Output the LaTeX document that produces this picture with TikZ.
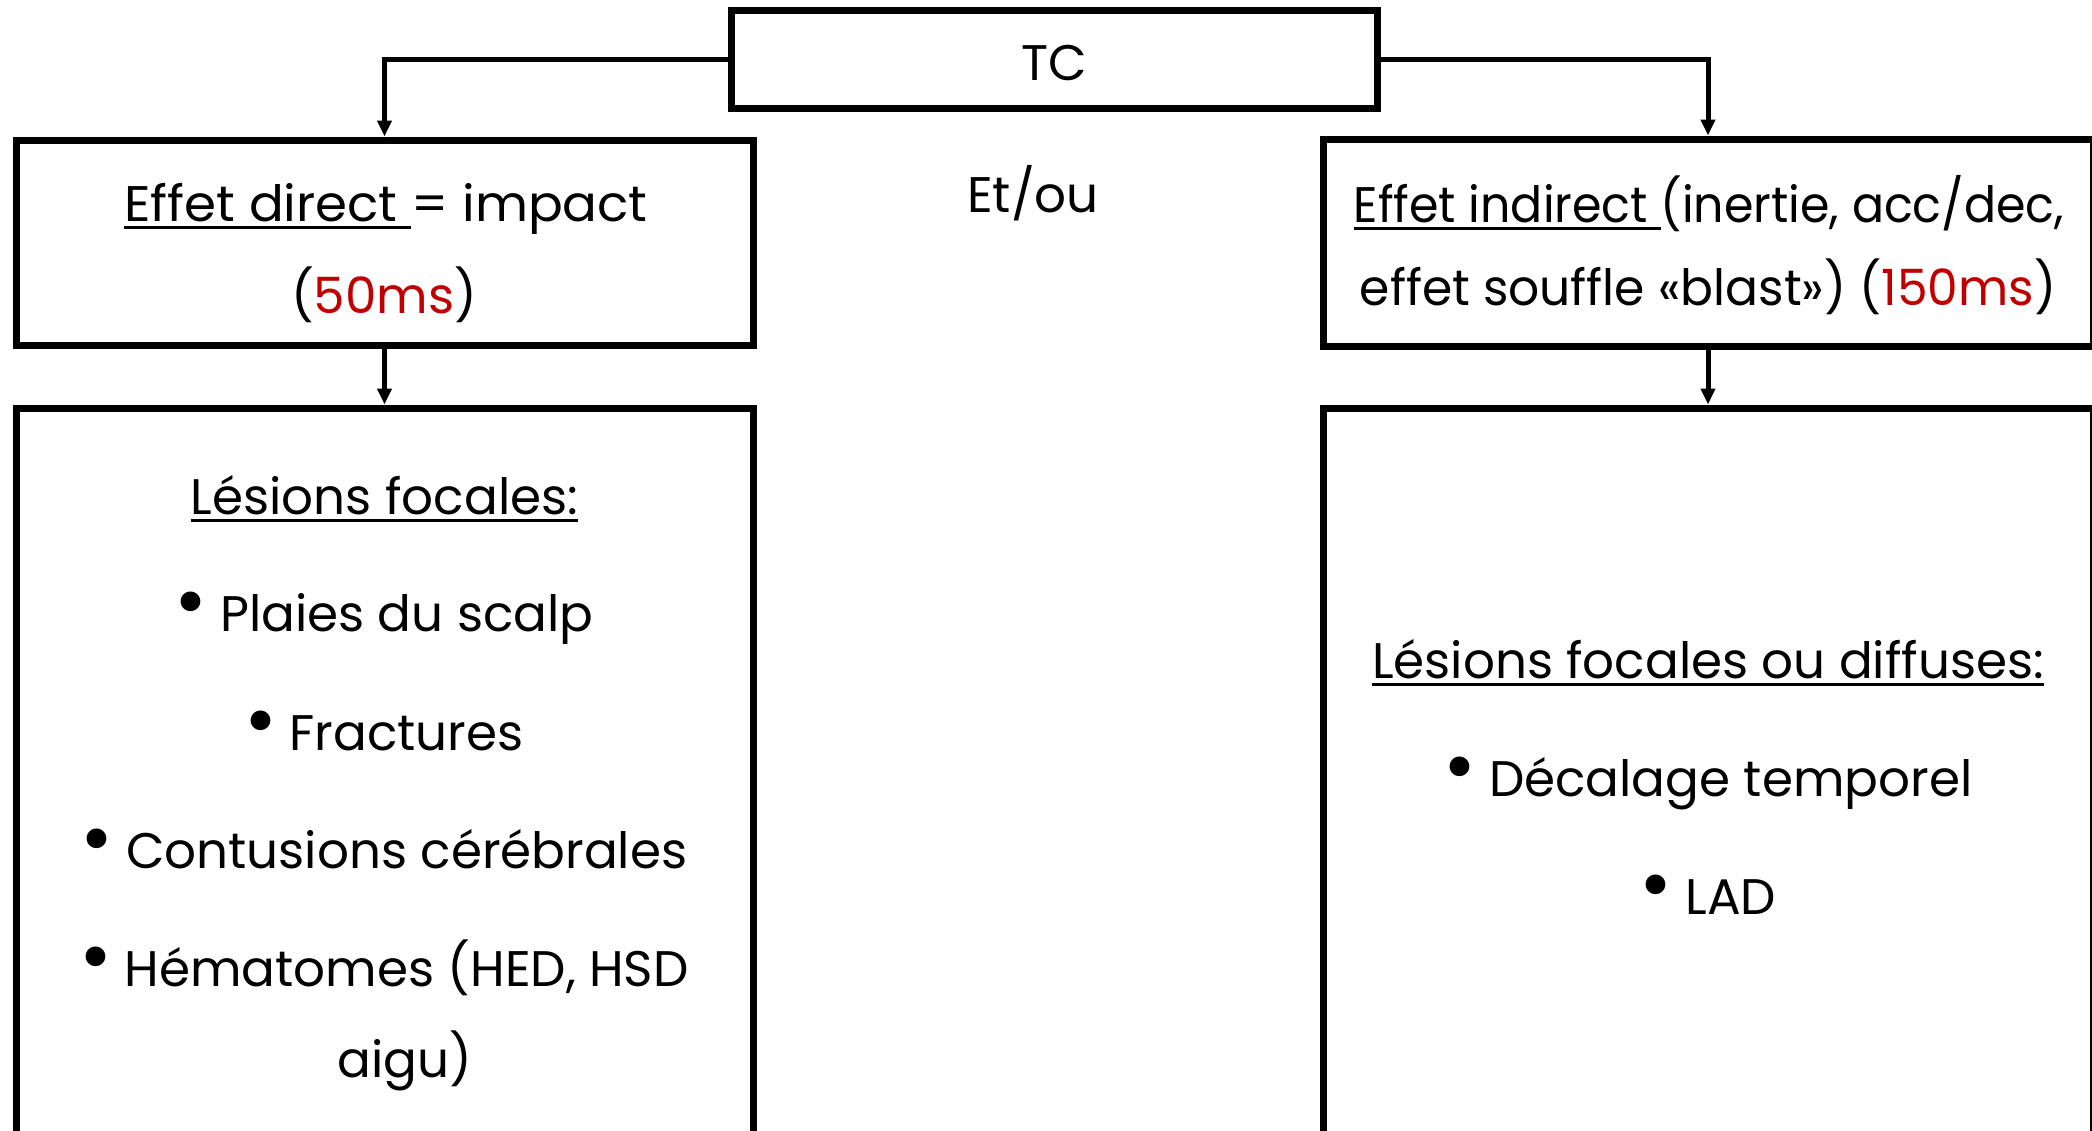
\documentclass[tikz,border=0pt]{standalone}
\usepackage{fontspec}
\setmainfont{Poppins}
\usetikzlibrary{arrows.meta}
\definecolor{redms}{RGB}{192,0,0}
\newcommand\ulx[1]{\setbox0\hbox{#1}\rlap{\rule[-3.75pt]{\wd0}{1.5pt}}\box0}
\newcommand\bul{\raisebox{1.5pt}{\fontsize{40}{40}\selectfont\textbullet}\hspace{0.25em}}
\begin{document}
\begin{tikzpicture}[x=0.5pt,y=-0.5pt,
  box/.style={draw=black,line width=3.5pt,rectangle,inner sep=0pt},
  conn/.style={line width=2.5pt,-{Triangle[length=8pt,width=7pt]}},
  txt/.style={anchor=base,inner sep=0pt,font=\fontsize{25}{30}\selectfont}]
\useasboundingbox (0,0) rectangle (2092,1130);
\fill[white] (0,0) rectangle (2092,1130);
% boxes
\node[box,minimum width=323pt,minimum height=49pt] (tc) at (1054,59) {};
\node[box,minimum width=368.5pt,minimum height=102.5pt] (ed) at (384.5,242.5) {};
\node[box,minimum width=385pt,minimum height=103.5pt] (ei) at (1708,242.5) {};
\node[box,minimum width=368.5pt,minimum height=446pt] (lf) at (384.5,854) {};
\node[box,minimum width=385pt,minimum height=446pt] (rf) at (1708,854) {};
% connectors
\draw[conn] (tc.west) -| (ed.north);
\draw[conn] (tc.east) -| (ei.north);
\draw[conn] (ed.south) -- (lf.north);
\draw[conn] (ei.south) -- (rf.north);
% texts
\node[txt] (ttc) at (1054,80) {TC};
\node[txt] (tetou) at (1033,212) {Et/ou};
\node[txt] (ted1) at (386,221) {\addfontfeature{FakeStretch=1.03}\ulx{Effet direct\ }= impact};
\node[txt] (ted2) at (384,313) {(\textcolor{redms}{50ms})};
\node[txt] (tei1) at (1709,222) {\addfontfeature{FakeStretch=0.95}\ulx{Effet indirect\ }(inertie, acc/dec,};
\node[txt] (tei2) at (1708,305) {\addfontfeature{FakeStretch=0.975}effet souffle «blast») (\textcolor{redms}{150ms})};
\node[txt] (tlf0) at (384.5,514) {\ulx{Lésions focales:}};
\node[txt] (tlf1) at (384,631) {\bul Plaies du scalp};
\node[txt] (tlf2) at (384,750) {\bul Fractures};
\node[txt] (tlf3) at (384,868) {\bul Contusions cérébrales};
\node[txt] (tlf4) at (384,986) {\bul Hématomes (HED, HSD};
\node[txt] (tlf5) at (405,1077) {aigu)};
\node[txt] (trf0) at (1708,678) {\ulx{Lésions focales ou diffuses:}};
\node[txt] (trf1) at (1708,796) {\bul Décalage temporel};
\node[txt] (trf2) at (1708,914) {\bul LAD};
\end{tikzpicture}
\end{document}
